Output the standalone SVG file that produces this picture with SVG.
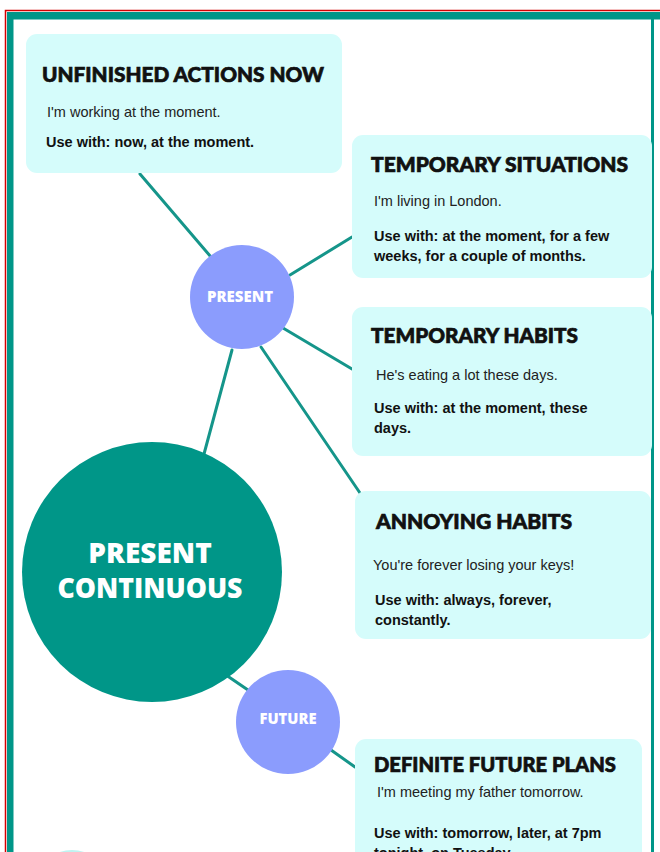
<svg xmlns="http://www.w3.org/2000/svg" width="660" height="852" viewBox="0 0 660 852">
<style>
.box{fill:#d5fcfb}
.title{font-family:Lato,"Open Sans",sans-serif;font-weight:900;font-size:21px;fill:#111;stroke:#111;stroke-width:0.7}
.ex{font-family:"Liberation Sans",Arial,sans-serif;font-size:14.5px;fill:#222}
.use{font-family:"Liberation Sans",Arial,sans-serif;font-weight:bold;font-size:14.5px;fill:#111}
.conn line{stroke:#15958a;stroke-width:3;stroke-linecap:round}
.small{fill:#8b9cfd}
.clab{font-family:"Open Sans",sans-serif;font-weight:800;fill:#fff;text-anchor:middle}
</style>
<rect x="0" y="0" width="660" height="852" fill="#fff"/>
<g id="frame">
<rect x="5.5" y="10.5" width="700" height="900" fill="none" stroke="#d40000" stroke-width="1.5"/>
<rect x="7" y="12" width="660" height="7.5" fill="#009688"/>
<rect x="7" y="12" width="6.5" height="850" fill="#009688"/>
<rect x="651" y="12" width="3" height="850" fill="#009688"/>
</g>
<g class="conn" id="connectors">
<line x1="140" y1="174" x2="211" y2="257"/>
<line x1="290" y1="275" x2="352" y2="237"/>
<line x1="283" y1="328" x2="352" y2="369"/>
<line x1="261" y1="347" x2="360" y2="493"/>
<line x1="232" y1="350" x2="204" y2="454"/>
<line x1="226" y1="675" x2="248" y2="690"/>
<line x1="331" y1="750" x2="355" y2="767"/>
</g>
<g id="unfinished">
<rect class="box" x="26" y="34" width="316" height="139" rx="11"/>
<text class="title" x="42" y="82" textLength="282" lengthAdjust="spacingAndGlyphs">UNFINISHED ACTIONS NOW</text>
<text class="ex" x="47" y="117">I'm working at the moment.</text>
<text class="use" x="46" y="147">Use with: now, at the moment.</text>
</g>
<g id="temp-situations">
<rect class="box" x="352" y="135" width="300" height="143" rx="11"/>
<text class="title" x="371" y="172" textLength="257" lengthAdjust="spacingAndGlyphs">TEMPORARY SITUATIONS</text>
<text class="ex" x="374" y="206">I'm living in London.</text>
<text class="use" x="374" y="241">Use with: at the moment, for a few</text>
<text class="use" x="374" y="261">weeks, for a couple of months.</text>
</g>
<g id="temp-habits">
<rect class="box" x="352" y="307" width="300" height="149" rx="11"/>
<text class="title" x="371" y="343" textLength="207" lengthAdjust="spacingAndGlyphs">TEMPORARY HABITS</text>
<text class="ex" x="376" y="380">He's eating a lot these days.</text>
<text class="use" x="374" y="413">Use with: at the moment, these</text>
<text class="use" x="374" y="433">days.</text>
</g>
<g id="annoying-habits">
<rect class="box" x="355" y="491" width="296" height="148" rx="11"/>
<text class="title" x="376" y="529" textLength="196" lengthAdjust="spacingAndGlyphs">ANNOYING HABITS</text>
<text class="ex" x="373" y="570">You're forever losing your keys!</text>
<text class="use" x="375" y="605">Use with: always, forever,</text>
<text class="use" x="375" y="625">constantly.</text>
</g>
<g id="definite-future">
<rect class="box" x="355" y="739" width="287" height="140" rx="11"/>
<text class="title" x="374" y="772" textLength="242" lengthAdjust="spacingAndGlyphs">DEFINITE FUTURE PLANS</text>
<text class="ex" x="377" y="797">I'm meeting my father tomorrow.</text>
<text class="use" x="374" y="838">Use with: tomorrow, later, at 7pm</text>
<text class="use" x="374" y="858">tonight, on Tuesday.</text>
</g>
<g id="present">
<circle class="small" cx="242" cy="297" r="52"/>
<text class="clab" x="240" y="302" font-size="15.5" textLength="66" lengthAdjust="spacingAndGlyphs">PRESENT</text>
</g>
<g id="present-continuous">
<circle cx="152" cy="572" r="130" fill="#009688"/>
<text class="clab" x="150" y="563" font-size="28">PRESENT</text>
<text class="clab" x="150" y="598" font-size="28" textLength="185" lengthAdjust="spacingAndGlyphs">CONTINUOUS</text>
</g>
<g id="future">
<circle class="small" cx="288" cy="722" r="52"/>
<text class="clab" x="288" y="724" font-size="15.5" textLength="57" lengthAdjust="spacingAndGlyphs">FUTURE</text>
</g>
<g id="bottom-circle">
<circle cx="72" cy="888" r="38" fill="#bff3f1"/>
</g>
</svg>
